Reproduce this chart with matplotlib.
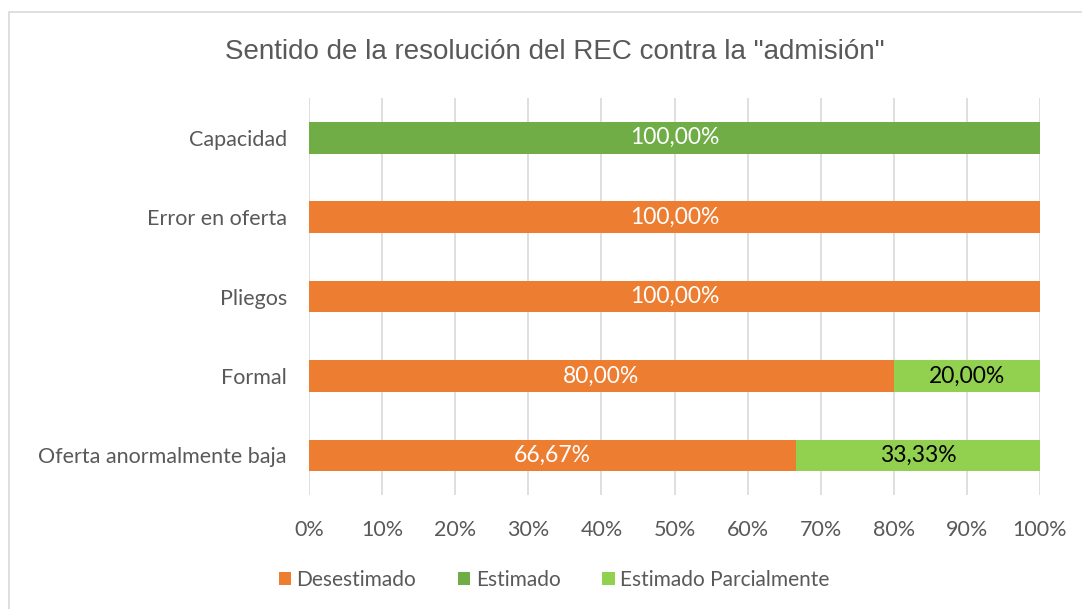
import matplotlib.pyplot as plt
from matplotlib.patches import Rectangle
from matplotlib.ticker import PercentFormatter

# data, top to bottom
categories = ['Capacidad', 'Error en oferta', 'Pliegos', 'Formal', 'Oferta anormalmente baja']
desestimado = [0, 100, 100, 80, 66.67]
estimado = [100, 0, 0, 0, 0]
parcial = [0, 0, 0, 20, 33.33]
series_names = ['Desestimado', 'Estimado', 'Estimado Parcialmente']

colors = ['#ED7D31', '#70AD47', '#92D050']
label_colors = ['white', 'white', 'black']
txt = '#595959'
font = ['Lato', 'DejaVu Sans']

fig = plt.figure(figsize=(10.82, 6.09), dpi=100)
ax = fig.add_axes([0.2856, 0.187, 0.6756, 0.652])

# chart border
fig.patches.append(Rectangle((0.008, -0.01), 1.1, 0.99, transform=fig.transFigure,
                             fill=False, edgecolor='#D9D9D9', linewidth=1.2))

y = list(range(len(categories)))[::-1]
left = [0] * len(categories)
for vals, name, c, lc in zip([desestimado, estimado, parcial], series_names, colors, label_colors):
    bars = ax.barh(y, vals, left=left, height=0.4, color=c, label=name, zorder=3)
    for b, v in zip(bars, vals):
        if v > 0:
            ax.text(b.get_x() + b.get_width() / 2, b.get_y() + b.get_height() / 2,
                    f'{v:.2f}%'.replace('.', ','), ha='center', va='center',
                    color=lc, fontsize=16.5, family=font, zorder=4)
    left = [l + v for l, v in zip(left, vals)]

ax.set_xlim(0, 100)
ax.set_ylim(-0.5, len(categories) - 0.5)
ax.set_xticks(range(0, 101, 10))
ax.xaxis.set_major_formatter(PercentFormatter(decimals=0))
ax.set_yticks(y)
ax.set_yticklabels(categories)
ax.grid(axis='x', color='#D9D9D9', linewidth=1.2, zorder=0)
for s in ax.spines.values():
    s.set_visible(False)
ax.tick_params(length=0, colors=txt, labelsize=15.5)
ax.tick_params(axis='x', pad=18)
ax.tick_params(axis='y', pad=16)
for lab in ax.get_xticklabels() + ax.get_yticklabels():
    lab.set_family(font)

fig.text(0.5125, 0.915, 'Sentido de la resolución del REC contra la "admisión"',
         ha='center', va='center', fontsize=20, color=txt, family=['Liberation Sans', 'DejaVu Sans'])

leg = fig.legend(loc='center', bbox_to_anchor=(0.512, 0.048), ncol=3, frameon=False,
                 handlelength=0.6, handleheight=0.6, handletextpad=0.25, columnspacing=2.0,
                 prop={'family': font, 'size': 15})
for t in leg.get_texts():
    t.set_color(txt)

fig.savefig('out.png', dpi=100)
